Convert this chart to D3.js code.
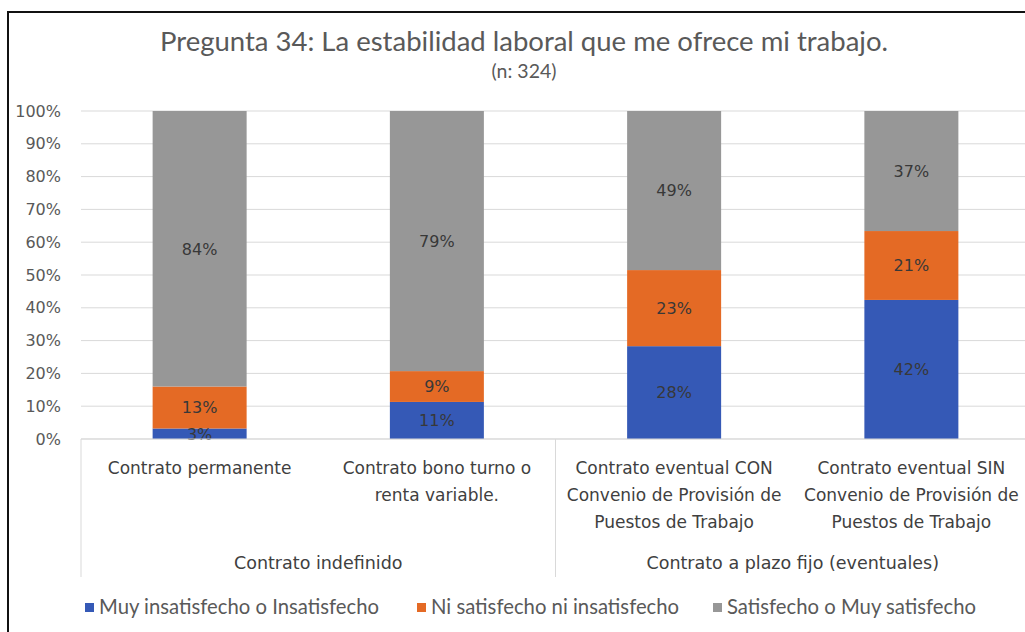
<!DOCTYPE html>
<html><head><meta charset="utf-8">
<script src="https://cdn.jsdelivr.net/npm/d3@7"></script>
<style>body{margin:0;background:#fff}svg{display:block}</style>
</head><body><svg id="c" width="1025" height="632"></svg>
<script>
const categories = [
  ["Contrato permanente"],
  ["Contrato bono turno o", "renta variable."],
  ["Contrato eventual CON", "Convenio de Provisión de", "Puestos de Trabajo"],
  ["Contrato eventual SIN", "Convenio de Provisión de", "Puestos de Trabajo"]
];
const groups = ["Contrato indefinido", "Contrato a plazo fijo (eventuales)"];
const groupOf = [0, 0, 1, 1];
const seriesNames = ["Muy insatisfecho o Insatisfecho", "Ni satisfecho ni insatisfecho", "Satisfecho o Muy satisfecho"];
const insatisfecho = [3.2, 11.3, 28.3, 42.4];
const neutral = [12.8, 9.4, 23.2, 21.0];
const satisfecho = [84.0, 79.3, 48.5, 36.6];
const colors = ["#3559b6", "#e46a25", "#979797"];
const yTicks = [0, 10, 20, 30, 40, 50, 60, 70, 80, 90, 100];
const title = "Pregunta 34: La estabilidad laboral que me ofrece mi trabajo.";
const subtitle = "(n: 324)";

(function () {
const svg = d3.select("#c");
const hum = "Lato, 'Open Sans', sans-serif";
const body = "'DejaVu Sans', 'Noto Sans', sans-serif";

svg.append("rect").attr("x", 8).attr("y", 12).attr("width", 1100).attr("height", 700)
  .attr("fill", "none").attr("stroke", "#111").attr("stroke-width", 2);

const pL = 81, pR = 1030, pT = 111, pB = 439;
const x = d3.scaleBand().domain(d3.range(categories.length)).range([pL, pR]).paddingInner(0.6).paddingOuter(0.3);
const y = d3.scaleLinear().domain([0, 100]).range([pB, pT]);

svg.append("g").selectAll("line").data(yTicks).join("line")
  .attr("x1", pL).attr("x2", pR).attr("y1", d => y(d)).attr("y2", d => y(d))
  .attr("stroke", "#d9d9d9").attr("stroke-width", 1);

const yAxis = d3.axisLeft(y).tickValues(yTicks).tickFormat(d => d + "%").tickSize(0).tickPadding(0);
const ya = svg.append("g").attr("transform", `translate(${pL - 20},0)`).call(yAxis);
ya.select(".domain").remove();
ya.selectAll("text").attr("font-family", body).attr("font-size", 16).attr("fill", "#595959");

const table = categories.map((c, i) => ({i, s0: insatisfecho[i], s1: neutral[i], s2: satisfecho[i]}));
const stack = d3.stack().keys(["s0", "s1", "s2"])(table);
const bw = 94;
stack.forEach((layer, k) => {
  svg.append("g").selectAll("rect").data(layer).join("rect")
    .attr("x", d => x(d.data.i) + x.bandwidth() / 2 - bw / 2)
    .attr("width", bw)
    .attr("y", d => y(d[1]))
    .attr("height", d => y(d[0]) - y(d[1]))
    .attr("fill", colors[k]);
});
stack.forEach((layer, k) => {
  svg.append("g").selectAll("text").data(layer).join("text")
    .attr("x", d => x(d.data.i) + x.bandwidth() / 2)
    .attr("y", d => (y(d[0]) + y(d[1])) / 2)
    .attr("dy", "0.36em").attr("text-anchor", "middle")
    .attr("font-family", body).attr("font-size", 16).attr("fill", "#383838")
    .text(d => Math.round(d[1] - d[0]) + "%");
});

svg.append("line").attr("x1", pL).attr("x2", pR).attr("y1", pB).attr("y2", pB)
  .attr("stroke", "#d9d9d9");
const seps = [pL, (x(1) + x.bandwidth() + x(2)) / 2, pR];
svg.append("g").selectAll("line").data(seps).join("line")
  .attr("x1", d => d).attr("x2", d => d).attr("y1", pB).attr("y2", 577)
  .attr("stroke", "#d9d9d9");

const cl = svg.append("g");
categories.forEach((lines, i) => {
  const t = cl.append("text").attr("text-anchor", "middle").attr("font-family", body)
    .attr("font-size", 17).attr("fill", "#404040");
  lines.forEach((ln, j) => t.append("tspan").attr("x", x(i) + x.bandwidth() / 2).attr("y", 474 + j * 27).text(ln));
});
groups.forEach((g, gi) => {
  const cx = (seps[gi] + seps[gi + 1]) / 2;
  svg.append("text").attr("x", cx).attr("y", 569).attr("text-anchor", "middle")
    .attr("font-family", body).attr("font-size", 17.5).attr("fill", "#404040").text(g);
});

svg.append("text").attr("x", 524).attr("y", 51).attr("text-anchor", "middle")
  .attr("font-family", hum).attr("font-size", 27.5).attr("fill", "#595959").text(title);
svg.append("text").attr("x", 524).attr("y", 78).attr("text-anchor", "middle")
  .attr("font-family", hum).attr("font-size", 19.5).attr("fill", "#595959").text(subtitle);

const legX = [85, 417, 713];
const lg = svg.append("g");
seriesNames.forEach((n, k) => {
  lg.append("rect").attr("x", legX[k]).attr("y", 603).attr("width", 9).attr("height", 9).attr("fill", colors[k]);
  lg.append("text").attr("x", legX[k] + 14).attr("y", 614).attr("font-family", hum)
    .attr("font-size", 20.3).attr("fill", "#595959").text(n);
});
})();
</script></body></html>
